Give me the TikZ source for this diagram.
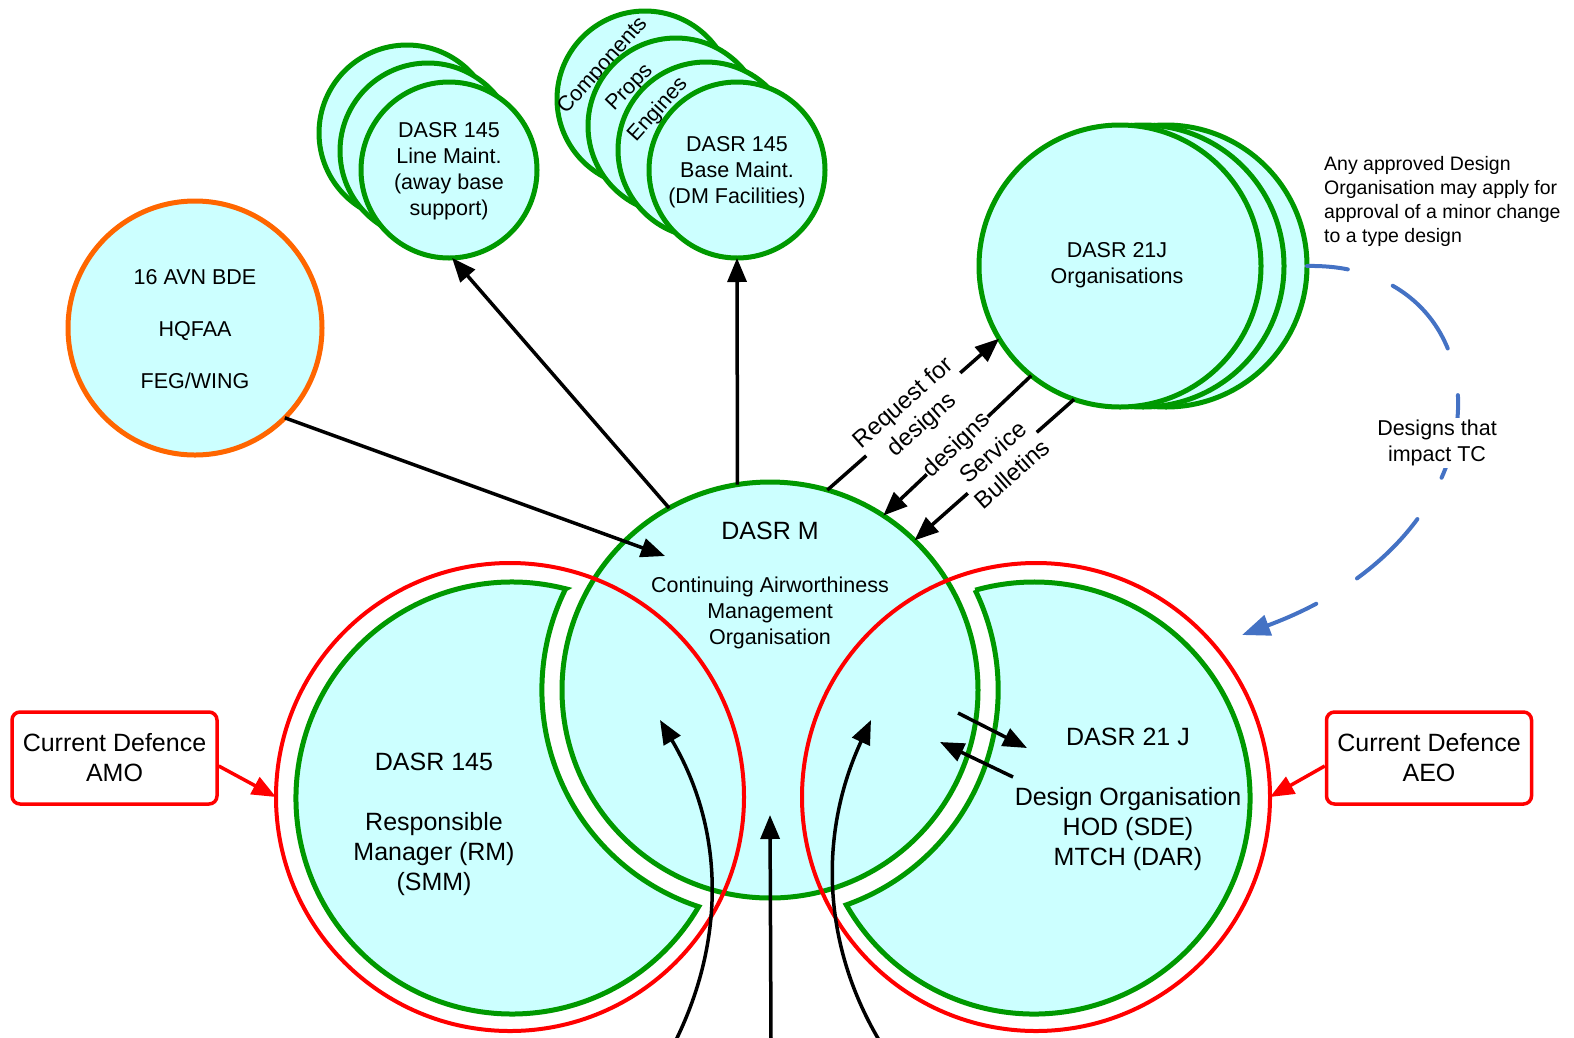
\documentclass[tikz,border=0pt]{standalone}
\usepackage{fontspec}
\setmainfont{Liberation Sans}
\usetikzlibrary{arrows.meta}
\definecolor{dgreen}{RGB}{0,153,0}
\definecolor{lcyan}{RGB}{204,255,255}
\definecolor{pred}{RGB}{255,0,0}
\definecolor{porange}{RGB}{255,102,0}
\definecolor{pblue}{RGB}{68,114,196}
\newcommand\fsA{\fontsize{21.5}{26}\selectfont}
\newcommand\fsB{\fontsize{25}{30}\selectfont}
\newcommand\fsC{\fontsize{19.5}{24}\selectfont}
\newcommand\fsD{\fontsize{24}{29}\selectfont}
\begin{document}
\begin{tikzpicture}[x=1pt,y=-1pt,
 orgc/.style={circle, draw=dgreen, fill=lcyan, line width=5pt, inner sep=0pt, outer sep=0pt},
 crescent/.style={draw=dgreen, fill=lcyan, line width=5pt},
 ringc/.style={circle, draw=pred, line width=4pt, inner sep=0pt, outer sep=0pt, minimum size=468pt},
 txt/.style={align=center, inner sep=0pt, font=\fsA},
 bigtxt/.style={align=center, inner sep=0pt, font=\fsB},
 arr/.style={draw=black, line width=3.5pt, -{Triangle[length=24pt,width=19pt]}},
 redarr/.style={draw=pred, line width=3.5pt, -{Triangle[length=24pt,width=19pt]}},
 lbl/.style={fill=white, font=\fsD, align=center, inner sep=0.5pt, sloped},
 boxn/.style={draw=pred, line width=3.5pt, rounded corners=8pt, fill=white, minimum width=205pt, minimum height=92pt, align=center, font=\fsB, inner sep=0pt}
]
\useasboundingbox (0,0) rectangle (1574,1037);

% Line maintenance stack
\node[orgc, minimum size=176pt] (LM3) at (407,133) {};
\node[orgc, minimum size=176pt] (LM2) at (428,151) {};
\node[orgc, minimum size=176pt] (LM) at (449,170) {};
\node[txt] (LMt) at (449,171) {DASR 145\\Line Maint.\\(away base\\support)};

% Base maintenance stack
\node[orgc, minimum size=176pt] (BM4) at (645,99) {};
\node[txt, rotate=48] (BMc) at (603,66) {Components};
\node[orgc, minimum size=176pt] (BM3) at (676,126) {};
\node[txt, rotate=46] (BMp) at (630,88) {Props};
\node[orgc, minimum size=176pt] (BM2) at (706,150) {};
\node[txt, rotate=48] (BMe) at (658,110) {Engines};
\node[orgc, minimum size=176pt] (BM) at (737,170) {};
\node[txt] (BMt) at (737,172) {DASR 145\\Base Maint.\\(DM Facilities)};

% DASR 21J organisations stack
\node[orgc, minimum size=282pt] (J3) at (1166,266) {};
\node[orgc, minimum size=282pt] (J2) at (1143,266) {};
\node[orgc, minimum size=282pt] (J1) at (1120,266) {};
\node[txt] (J1t) at (1117,265.5) {DASR 21J\\Organisations};

\node[font=\fsC, align=left, inner sep=0pt, anchor=west] (note) at (1324,201) {Any approved Design\\Organisation may apply for\\approval of a minor change\\to a type design};

% 16 AVN BDE
\node[circle, draw=porange, fill=lcyan, line width=5pt, minimum size=254pt, inner sep=0pt, outer sep=0pt] (AVN) at (195,328) {};
\node[txt] (AVNt) at (195,329.5) {16 AVN BDE\\[26pt]HQFAA\\[26pt]FEG/WING};

% crescents
\path[crescent] (565.7,588.8) arc[start angle=-75.6, end angle=-329.8, radius=216] arc[start angle=108.2, end angle=206.35, radius=228] -- cycle;
\path[crescent] (975.2,590.2) arc[start angle=-105.8, end angle=150.35, radius=216] arc[start angle=70.5, end angle=-26.0, radius=228] -- cycle;

% DASR M
\node[orgc, minimum size=416pt] (M) at (770,690) {};
\node[bigtxt] (Mt1) at (770,531) {DASR M};
\node[txt] (Mt2) at (770,613) {Continuing Airworthiness\\Management\\Organisation};

\node[bigtxt] (Lt) at (434,824.7) {DASR 145\\[30pt]Responsible\\Manager (RM)\\(SMM)};
\node[bigtxt] (Rt) at (1128,799.7) {DASR 21 J\\[30pt]Design Organisation\\HOD (SDE)\\MTCH (DAR)};

% red rings
\node[ringc] (RL) at (510,797) {};
\node[ringc] (RR) at (1036,797) {};

% boxes
\node[boxn] (AMO) at (114.5,758) {Current Defence\\AMO};
\node[boxn] (AEO) at (1429,758) {Current Defence\\AEO};

% blue dashed connector
\coordinate (btip) at (1242,635);
\draw[pblue, line width=4pt, line cap=round, dash pattern=on 85pt off 48pt, dash phase=44pt, -{Triangle[length=28pt,width=21pt]}] (J3.east) .. controls (1505,262) and (1525,530) .. (btip);
\node[txt, fill=white, inner sep=2pt] (dtc) at (1437,443) {Designs that\\impact TC};

% black arrows
\coordinate (avnEnd) at (665,556);
\draw[arr] (AVN.-45) -- (avnEnd);
\draw[arr] (M.119) -- (LM.272);
\draw[arr] (M.99) -- (BM.south);
\draw[arr] (M.74) -- node[lbl] {Request for\\designs} (J1.211);
\draw[arr] (J1.231) -- node[lbl] {designs} (M.57);
\draw[arr] (J1.251) -- node[lbl, pos=0.45] {Service\\Bulletins} (M.46);

\coordinate (sa1) at (958,713); \coordinate (sa1e) at (1027,748);
\coordinate (sa2) at (1013,777); \coordinate (sa2e) at (940,742);
\draw[arr] (sa1) -- (sa1e);
\draw[arr] (sa2) -- (sa2e);

\coordinate (bl) at (676,1040); \coordinate (blT) at (660,720);
\draw[arr] (bl) .. controls (725,940) and (725,830) .. (blT);
\coordinate (bm) at (771,1040); \coordinate (bmT) at (770,815);
\draw[arr] (bm) -- (bmT);
\coordinate (br) at (879,1040); \coordinate (brT) at (871,720);
\draw[arr] (br) .. controls (820,940) and (820,830) .. (brT);

% red arrows
\draw[redarr] ([yshift=-8pt]AMO.east) -- (RL.west);
\draw[redarr] ([yshift=-8pt]AEO.west) -- (RR.east);
\end{tikzpicture}
\end{document}
